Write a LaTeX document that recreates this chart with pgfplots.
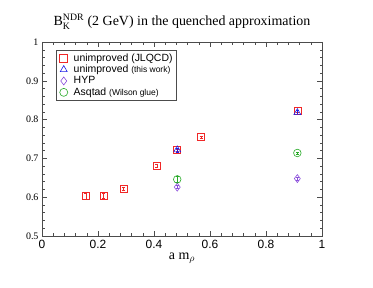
\documentclass[border=0pt]{standalone}
\usepackage{amsmath}
\usepackage{pgfplots}
\pgfplotsset{compat=1.18}
\usepackage{fontspec}
\setmainfont{Liberation Serif}
\newfontfamily\sans{Liberation Sans}
\definecolor{cred}{RGB}{240,40,40}
\definecolor{cblue}{RGB}{30,30,230}
\definecolor{cpurp}{RGB}{140,80,220}
\definecolor{cgreen}{RGB}{40,170,40}
\begin{document}
\begin{tikzpicture}
\path[use as bounding box] (-42bp,-52bp) rectangle (331bp,236bp);
\begin{axis}[
  at={(0,0)}, anchor=south west,
  scale only axis, width=280bp, height=194bp,
  xmin=0, xmax=1, ymin=0.5, ymax=1,
  xtick={0,0.2,...,1}, ytick={0.5,0.6,...,1},
  minor x tick num=4, minor y tick num=4,
  tick align=inside, major tick length=5bp, minor tick length=2.5bp,
  every tick/.style={black!70, line width=0.5pt},
  axis line style={black!70, line width=0.6pt},
  xticklabel style={font=\sans\fontsize{12}{14}\selectfont, yshift=-1bp},
  yticklabel style={font=\fontsize{10}{11}\selectfont, xshift=0bp},
  xticklabels={0,0.2,0.4,0.6,0.8,1},
  yticklabels={0.5,0.6,0.7,0.8,0.9,1},
  title={\fontsize{14}{16}\selectfont $\text{B}_{\text{K}}^{\text{NDR}}$ (2 GeV) in the quenched approximation},
  title style={yshift=3bp},
  xlabel={\fontsize{14}{16}\selectfont a m$_\rho$},
  xlabel style={yshift=3bp},
  legend style={at={(0.05,0.96)}, anchor=north west, draw=black!70, line width=0.5pt,
    font=\sans\fontsize{10.5}{12}\selectfont, inner sep=1.5pt, row sep=-1.5pt, cells={anchor=west}},
  legend cell align=left,
  legend image code/.code={
    \path[draw=none, fill=none] (0bp,-1bp) rectangle (14bp,1bp);
    \draw[#1, mark size=4bp] plot coordinates {(6bp,0bp)};
  },
  error bars/y dir=both, error bars/y explicit,
  error bars/error mark options={rotate=90, mark size=1.5bp},
]
\addplot[only marks, mark=square, mark size=3.5bp, color=cred, line width=0.6pt,
  error bars/error bar style={cred, line width=0.6pt}]
  coordinates {
  (0.157,0.603) +- (0,0.008)
  (0.220,0.604) +- (0,0.007)
  (0.292,0.622) +- (0,0.005)
  (0.410,0.681) +- (0,0.003)
  (0.483,0.722) +- (0,0.003)
  (0.568,0.755) +- (0,0.003)
  (0.912,0.822) +- (0,0.003)
  };
\addlegendentry{unimproved (JLQCD)}
\addplot[only marks, mark=triangle, mark size=4bp, color=cblue, line width=0.6pt,
  error bars/error bar style={cblue, line width=0.6pt}]
  coordinates {
  (0.483,0.722) +- (0,0.005)
  (0.912,0.818) +- (0,0.005)
  };
\addlegendentry{unimproved {\fontsize{8.5}{10}\selectfont(this work)}}
\addplot[only marks, mark=diamond, mark size=4bp, color=cpurp, line width=0.6pt,
  error bars/error bar style={cpurp, line width=0.6pt}]
  coordinates {
  (0.483,0.626) +- (0,0.004)
  (0.912,0.648) +- (0,0.003)
  };
\addlegendentry{HYP}
\addplot[only marks, mark=o, mark size=3.8bp, color=cgreen, line width=0.6pt,
  error bars/error bar style={cgreen, line width=0.6pt}]
  coordinates {
  (0.483,0.646) +- (0,0.008)
  (0.912,0.714) +- (0,0.002)
  };
\addlegendentry{Asqtad {\fontsize{8.5}{10}\selectfont(Wilson glue)}}
\end{axis}
\end{tikzpicture}
\end{document}
